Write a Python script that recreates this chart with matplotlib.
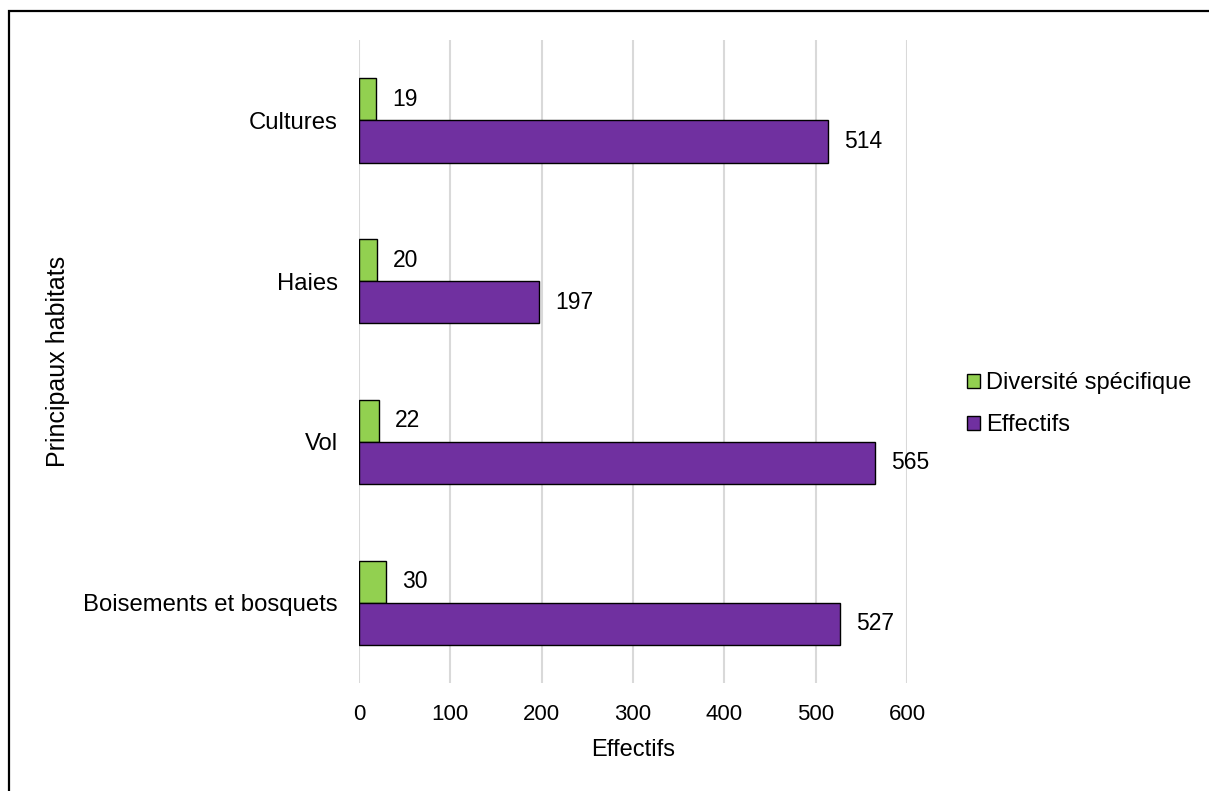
import numpy as np
import matplotlib.pyplot as plt
from matplotlib.patches import Rectangle, Patch

# data
habitats = ["Boisements et bosquets", "Vol", "Haies", "Cultures"]
diversite = [30, 22, 20, 19]
effectifs = [527, 565, 197, 514]
xticks = [0, 100, 200, 300, 400, 500, 600]

green = "#92D050"
purple = "#7030A0"

plt.rcParams["font.family"] = ["Liberation Sans", "DejaVu Sans"]
plt.rcParams["font.size"] = 17

fig = plt.figure(figsize=(12.09, 7.91), dpi=100)
ax = fig.add_axes([0.2969, 0.1365, 0.4533, 0.8129])

y = np.arange(len(habitats))
h = 0.262

b1 = ax.barh(y + h / 2, diversite, height=h, color=green, edgecolor="black", linewidth=1.0, zorder=3)
b2 = ax.barh(y - h / 2, effectifs, height=h, color=purple, edgecolor="black", linewidth=1.0, zorder=3)

for bars in (b1, b2):
    for r in bars:
        w = r.get_width()
        ax.annotate(str(int(w)), (w, r.get_y() + r.get_height() / 2),
                    xytext=(11.5, 0), textcoords="offset points",
                    va="center", ha="left", fontsize=16.5, color="black")

ax.set_xlim(0, 600)
ax.set_ylim(-0.5, 3.5)
ax.set_xticks(xticks)
ax.set_yticks(y)
ax.set_yticklabels(habitats)
ax.tick_params(axis="x", length=0, pad=15, labelsize=16)
ax.tick_params(axis="y", length=0, pad=15, labelsize=17.2)
ax.grid(axis="x", color="#D9D9D9", linewidth=1.5, zorder=0)
for s in ax.spines.values():
    s.set_visible(False)

ax.set_xlabel("Effectifs", fontsize=17, labelpad=10)
ax.set_ylabel("Principaux habitats", fontsize=18)
ax.yaxis.set_label_coords(70 / 1209, 1 - 361 / 791, transform=fig.transFigure)

handles = [Patch(facecolor=green, edgecolor="black", linewidth=1.0),
           Patch(facecolor=purple, edgecolor="black", linewidth=1.0)]
fig.legend(handles, ["Diversité spécifique", "Effectifs"],
           loc="center left", bbox_to_anchor=(967 / 1209, 1 - 404 / 791), frameon=False,
           fontsize=17, handlelength=0.55, handleheight=0.55, handletextpad=0.25,
           labelspacing=0.85, borderpad=0, borderaxespad=0)

fig.patches.append(Rectangle((0.0074, -0.02), 1.05, 0.986 + 0.02,
                             transform=fig.transFigure, fill=False,
                             edgecolor="black", linewidth=1.6))

fig.savefig("out.png", dpi=100)
